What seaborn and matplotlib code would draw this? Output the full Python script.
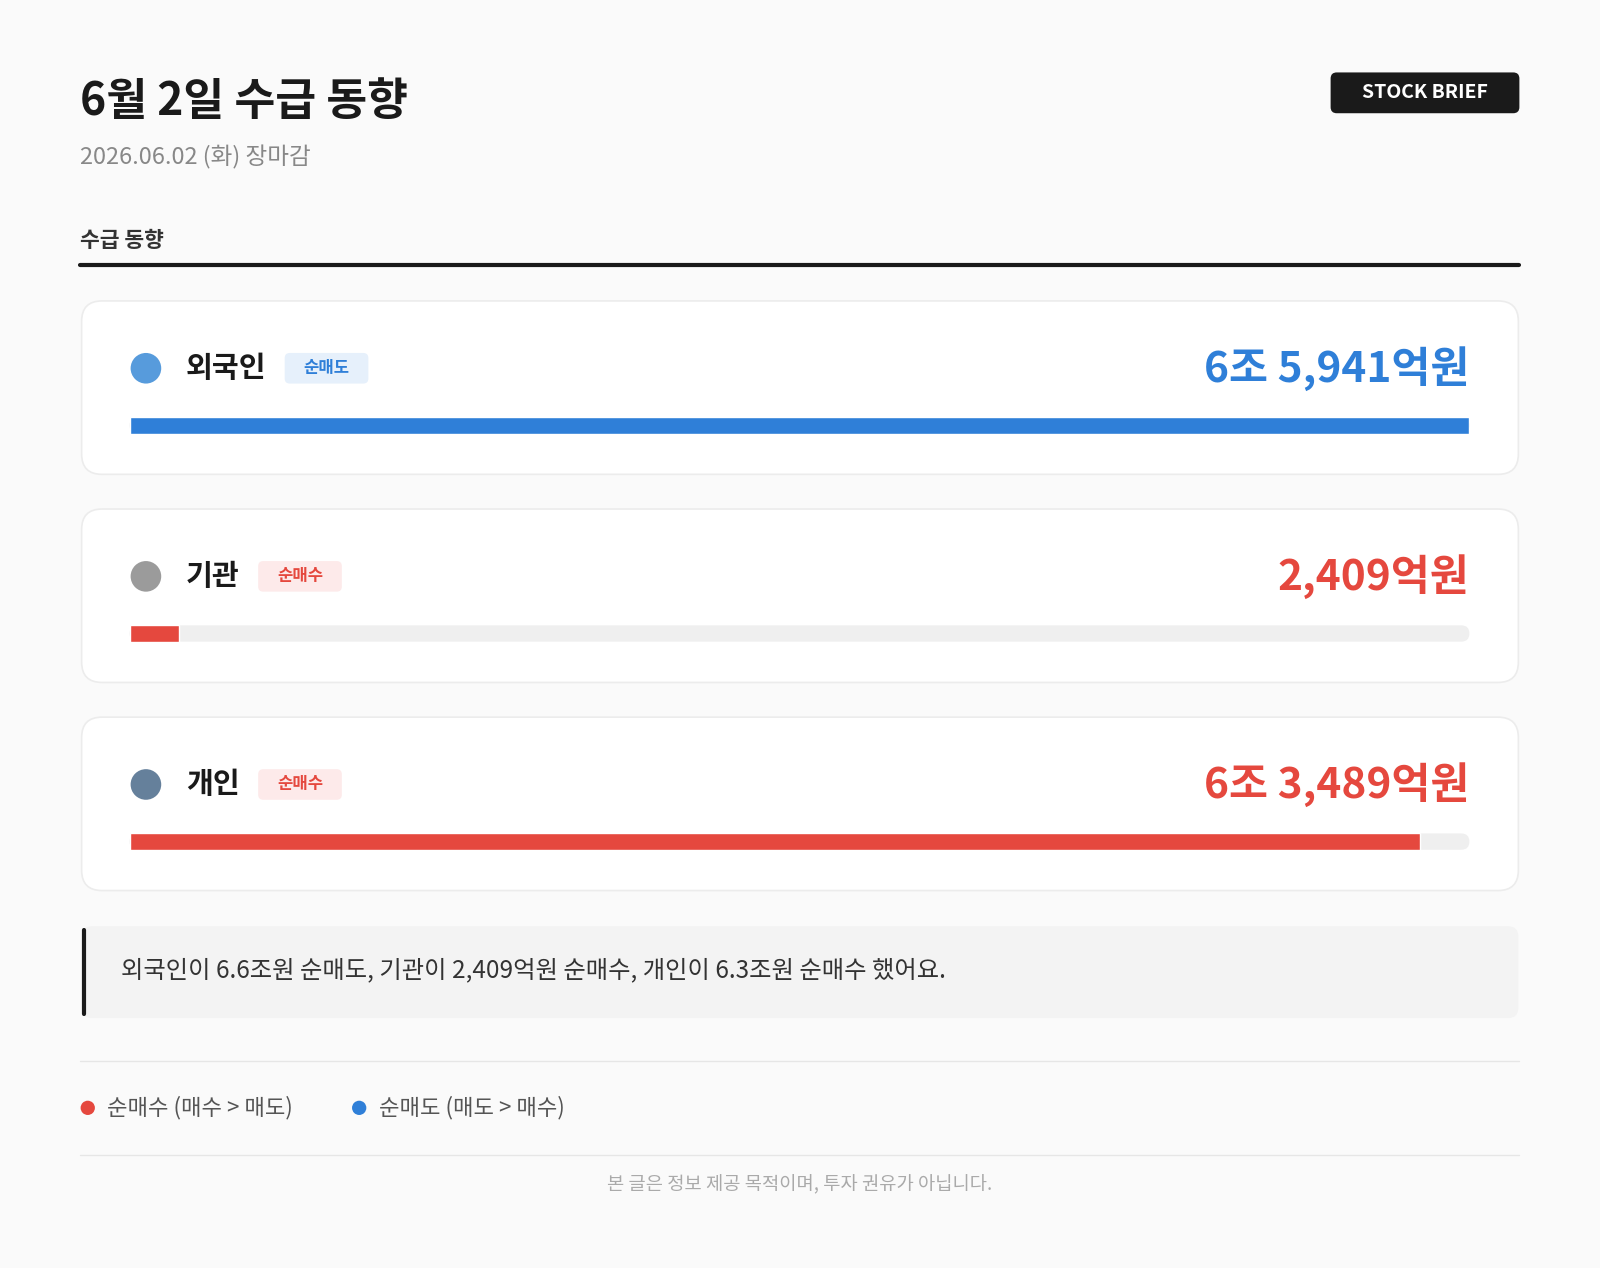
import matplotlib
matplotlib.use("Agg")
import matplotlib.pyplot as plt
import seaborn as sns
import pandas as pd
from matplotlib.patches import FancyBboxPatch, Circle

sns.set_style("white")
plt.rcParams['font.family'] = ['Noto Sans CJK KR', 'DejaVu Sans']

investors = ["외국인", "기관", "개인"]
values = [65941, 2409, 63489]          # 억원
value_labels = ["6조 5,941억원", "2,409억원", "6조 3,489억원"]
badges = ["순매도", "순매수", "순매수"]
summary = "외국인이 6.6조원 순매도, 기관이 2,409억원 순매수, 개인이 6.3조원 순매수 했어요."

W, H = 1568, 1243
fig = plt.figure(figsize=(16, 12.68), dpi=100, facecolor="#fafafa")
ax = fig.add_axes([0, 0, 1, 1])
ax.set_xlim(0, W); ax.set_ylim(H, 0); ax.axis("off")
ax.set_facecolor("#fafafa")

ax.text(78, 100, "6월 2일 수급 동향", fontsize=32, fontweight="bold", color="#1a1a1a", va="center")
ax.text(78, 154, "2026.06.02 (화) 장마감", fontsize=17, color="#888888", va="center")
ax.add_patch(FancyBboxPatch((1304, 71), 185, 40, boxstyle="round,pad=0,rounding_size=6", fc="#1a1a1a", ec="none"))
ax.text(1396, 91, "STOCK BRIEF", fontsize=14, fontweight="bold", color="white", ha="center", va="center")
ax.text(78, 236, "수급 동향", fontsize=15.5, fontweight="bold", color="#333333", va="center")
ax.plot([78, 1489], [260, 260], color="#1a1a1a", lw=3)

blue, red = "#2f7fd8", "#e5483e"
colors = [blue, red, red]
badge_bg = ["#e6f0fb", "#fdeaea", "#fdeaea"]
name_w = [82, 56, 56]
maxv = max(values)
for i, (name, v, lab, b) in enumerate(zip(investors, values, value_labels, badges)):
    top = 295 + i * 204
    ax.add_patch(FancyBboxPatch((80, top), 1408, 170, boxstyle="round,pad=0,rounding_size=20",
                                fc="white", ec="#ececec", lw=1.2))
    cy = top + 66
    ic = ["#3a8ad6", "#8a8a8a", "#4a6a8a"][i]
    ax.add_patch(Circle((143, cy), 15, fc=ic, ec="none", alpha=0.85))
    ax.text(182, cy, name, fontsize=21, fontweight="bold", color="#1a1a1a", va="center")
    bx = 182 + name_w[i] + 15
    ax.add_patch(FancyBboxPatch((bx, cy - 15), 82, 30, boxstyle="round,pad=0,rounding_size=5", fc=badge_bg[i], ec="none"))
    ax.text(bx + 41, cy, b, fontsize=12, fontweight="bold", color=colors[i], ha="center", va="center")
    ax.text(1440, cy, lab, fontsize=30.5, fontweight="bold", color=colors[i], ha="right", va="center")
    by = top + 122
    ax.add_patch(FancyBboxPatch((127, by - 8), 1313, 16, boxstyle="round,pad=0,rounding_size=8", fc="#efefef", ec="none"))
    bax = fig.add_axes([127 / W, 1 - (by + 8) / H, 1313 / W, 16 / H])
    df = pd.DataFrame({"who": [name], "v": [v]})
    sns.barplot(data=df, x="v", y="who", color=colors[i], width=1, ax=bax, saturation=1)
    bax.set_xlim(0, maxv); bax.axis("off"); bax.patch.set_alpha(0)

ax.add_patch(FancyBboxPatch((80, 908), 1408, 90, boxstyle="round,pad=0,rounding_size=10", fc="#f3f3f3", ec="none"))
ax.plot([82, 82], [912, 994], color="#1a1a1a", lw=3, solid_capstyle="round")
ax.text(119, 951, summary, fontsize=17.5, color="#333333", va="center")

ax.plot([78, 1489], [1040, 1040], color="#e6e6e6", lw=1)
ax.add_patch(Circle((86, 1086), 7, fc=red, ec="none"))
ax.text(105, 1086, "순매수 (매수 > 매도)", fontsize=16, color="#555555", va="center")
ax.add_patch(Circle((352, 1086), 7, fc=blue, ec="none"))
ax.text(371, 1086, "순매도 (매도 > 매수)", fontsize=16, color="#555555", va="center")
ax.plot([78, 1489], [1132, 1132], color="#e6e6e6", lw=1)
ax.text(784, 1161, "본 글은 정보 제공 목적이며, 투자 권유가 아닙니다.", fontsize=13.5, color="#aaaaaa", ha="center", va="center")

fig.savefig("out.png", dpi=100, facecolor=fig.get_facecolor())
